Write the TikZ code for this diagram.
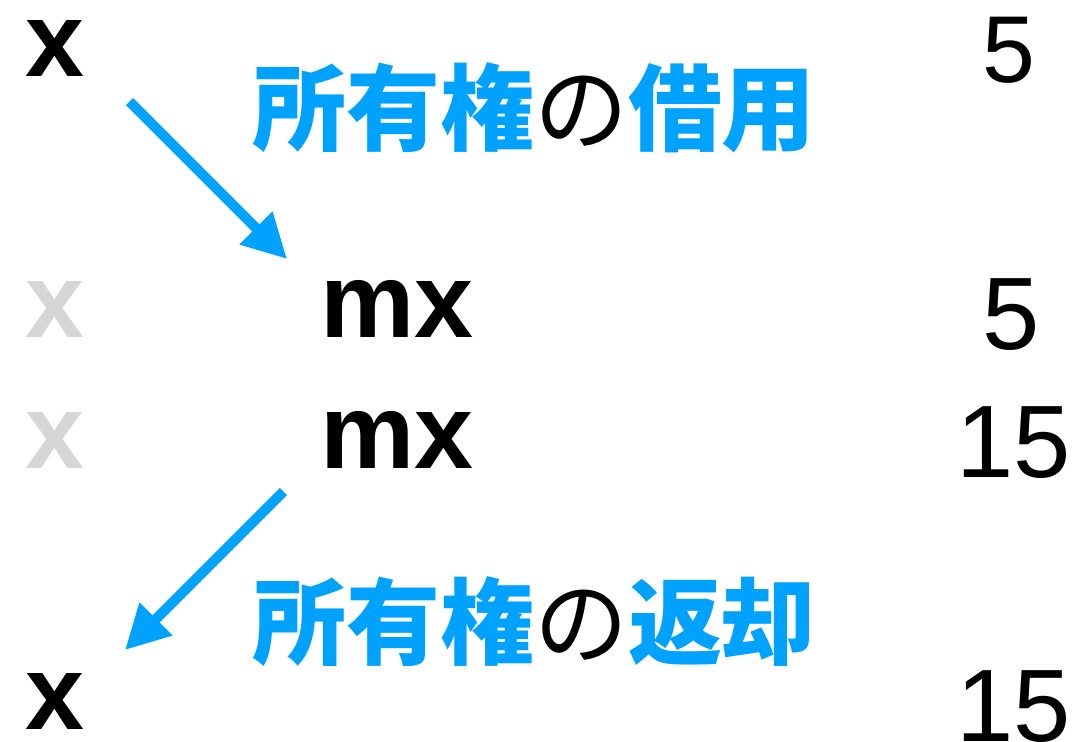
\documentclass[tikz,border=0pt]{standalone}
\usepackage{fontspec}
\setmainfont{Liberation Sans}
\newfontfamily\cjk{Noto Sans CJK JP}
\usetikzlibrary{arrows.meta}
\definecolor{ablue}{HTML}{00A2FF}
\definecolor{lgray}{HTML}{D6D6D6}
\tikzset{
  var/.style={inner sep=0pt, anchor=base west, text height=0.56em, text depth=0pt, font=\fontsize{106}{120}\selectfont\bfseries},
  ghost/.style={var, text=lgray},
  num/.style={inner sep=0pt, anchor=base west, text height=0.74em, text depth=0pt, font=\fontsize{103}{120}\selectfont},
  lbl/.style={inner sep=0pt, anchor=center, font=\fontsize{94}{110}\selectfont\cjk},
  arr/.style={draw=ablue, line width=10pt, -{Triangle[length=44pt,width=44pt]}},
}
\newcommand{\bl}[1]{{\bfseries\color{ablue}#1}}
\begin{document}
\begin{tikzpicture}[x=1pt,y=-1pt]
\useasboundingbox (0,0) rectangle (1080,742);
% row 1
\node[var] (x1) at (25,76) {x};
\node[num, font=\fontsize{95}{110}\selectfont] (n1) at (982,82) {5};
\node[lbl] (l1) at (534,108) {\bl{所有権}の\bl{借用}};
% row 2
\node[ghost] (g2) at (25,337) {x};
\node[var] (m2) at (320,337) {mx};
\node[num] (n2) at (982,349) {5};
% row 3
\node[ghost] (g3) at (25,468) {x};
\node[var] (m3) at (320,468) {mx};
\node[num] (n3) at (956,477) {15};
% row 4
\node[lbl] (l2) at (534,622) {\bl{所有権}の\bl{返却}};
\node[var] (x4) at (25,729) {x};
\node[num] (n4) at (956,741) {15};
% arrows
\coordinate (a1s) at (129.5,101.5);
\coordinate (a1e) at (287,259);
\coordinate (a2s) at (283.5,491.5);
\coordinate (a2e) at (125,650);
\draw[arr] (a1s) -- (a1e);
\draw[arr] (a2s) -- (a2e);
\end{tikzpicture}
\end{document}
